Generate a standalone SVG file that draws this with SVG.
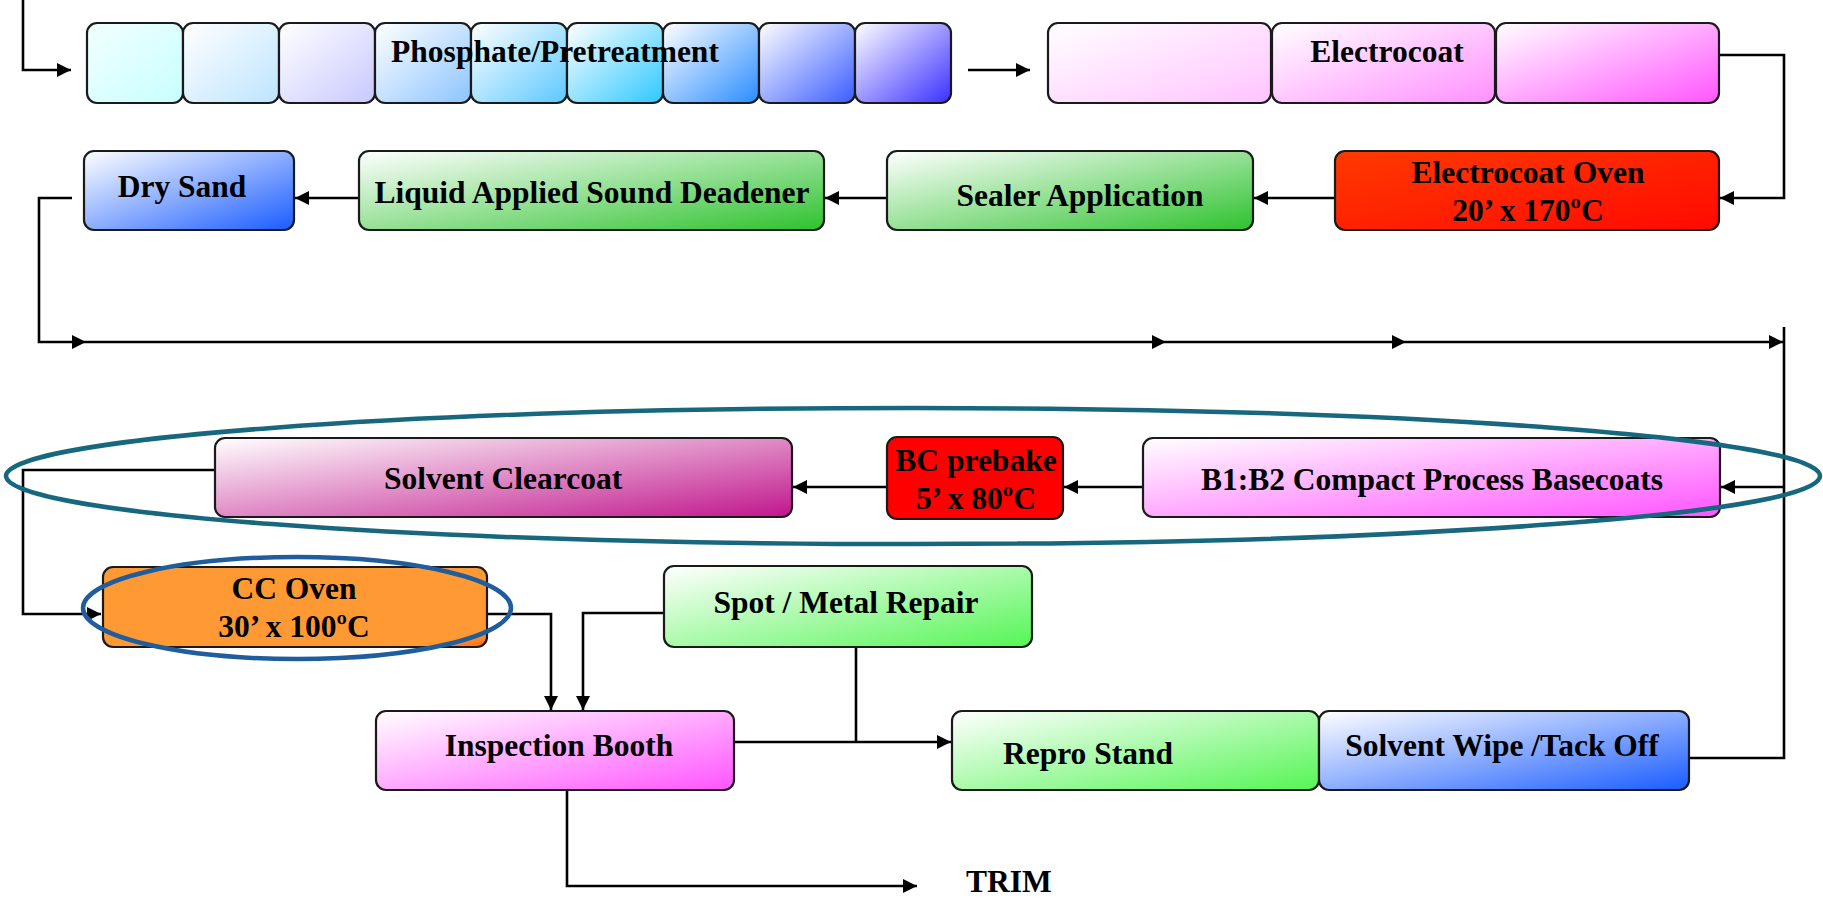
<svg xmlns="http://www.w3.org/2000/svg" width="1823" height="898" viewBox="0 0 1823 898">
<style>
.box{stroke:#1a1a1a;stroke-width:2.2}
.t{font-family:"Liberation Serif","Times New Roman",serif;font-weight:bold;font-size:31.5px;fill:#000;text-anchor:middle}
.c{fill:none;stroke:#000;stroke-width:2.6}
.ca{fill:none;stroke:#000;stroke-width:2.6;marker-end:url(#ah)}
.hl{fill:none;stroke-width:4.5}
</style>
<defs>
<marker id="ah" markerUnits="userSpaceOnUse" markerWidth="16" markerHeight="16" refX="14" refY="7" orient="auto">
<path d="M0,0 L14,7 L0,14 z" fill="#000"/>
</marker>
<linearGradient id="p1" x1="0" y1="0" x2="1" y2="1"><stop offset="0" stop-color="#f2ffff"/><stop offset="1" stop-color="#c8ffff"/></linearGradient>
<linearGradient id="p2" x1="0" y1="0" x2="1" y2="1"><stop offset="0" stop-color="#fff"/><stop offset="1" stop-color="#bde4ff"/></linearGradient>
<linearGradient id="p3" x1="0" y1="0" x2="1" y2="1"><stop offset="0" stop-color="#fff"/><stop offset="1" stop-color="#c8c8ff"/></linearGradient>
<linearGradient id="p4" x1="0" y1="0" x2="1" y2="1"><stop offset="0" stop-color="#fff"/><stop offset="1" stop-color="#8cc4ff"/></linearGradient>
<linearGradient id="p5" x1="0" y1="0" x2="1" y2="1"><stop offset="0" stop-color="#fff"/><stop offset="1" stop-color="#5cc8ff"/></linearGradient>
<linearGradient id="p6" x1="0" y1="0" x2="1" y2="1"><stop offset="0" stop-color="#fff"/><stop offset="1" stop-color="#2ec8ff"/></linearGradient>
<linearGradient id="p7" x1="0" y1="0" x2="1" y2="1"><stop offset="0" stop-color="#fff"/><stop offset="1" stop-color="#2a8cff"/></linearGradient>
<linearGradient id="p8" x1="0" y1="0" x2="1" y2="1"><stop offset="0" stop-color="#fff"/><stop offset="1" stop-color="#3a5cff"/></linearGradient>
<linearGradient id="p9" x1="0" y1="0" x2="1" y2="1"><stop offset="0" stop-color="#fff"/><stop offset="1" stop-color="#3a30ff"/></linearGradient>
<linearGradient id="e1" x1="0" y1="0" x2="1" y2="1"><stop offset="0" stop-color="#fff"/><stop offset="1" stop-color="#ffc4ff"/></linearGradient>
<linearGradient id="e2" x1="0" y1="0" x2="1" y2="1"><stop offset="0" stop-color="#fff"/><stop offset="1" stop-color="#ff90ff"/></linearGradient>
<linearGradient id="mag" x1="0" y1="0" x2="1" y2="1"><stop offset="0" stop-color="#fff"/><stop offset="1" stop-color="#ff55ff"/></linearGradient>
<linearGradient id="blue" x1="0" y1="0" x2="1" y2="1"><stop offset="0" stop-color="#fff"/><stop offset="1" stop-color="#1a5cff"/></linearGradient>
<linearGradient id="green" x1="0" y1="0" x2="1" y2="1"><stop offset="0" stop-color="#fff"/><stop offset="1" stop-color="#2ec22e"/></linearGradient>
<linearGradient id="lgreen" x1="0" y1="0" x2="1" y2="1"><stop offset="0" stop-color="#fff"/><stop offset="1" stop-color="#55f555"/></linearGradient>
<linearGradient id="purp" x1="0" y1="0" x2="1" y2="1"><stop offset="0" stop-color="#fff"/><stop offset="1" stop-color="#c0168c"/></linearGradient>
<linearGradient id="red1" x1="0" y1="0" x2="1" y2="1"><stop offset="0" stop-color="#ff3a00"/><stop offset="1" stop-color="#ff0a00"/></linearGradient>
<linearGradient id="orange" x1="0" y1="0" x2="1" y2="1"><stop offset="0" stop-color="#ff9933"/><stop offset="0.9" stop-color="#ff9933"/><stop offset="1" stop-color="#ff6a10"/></linearGradient>
</defs>
<rect width="1823" height="898" fill="#fff"/>

<g id="connectors">
<path class="ca" d="M23,0 V70 H71"/>
<path class="ca" d="M968,70 H1030"/>
<path class="ca" d="M1719,55 H1784 V198 H1720"/>
<path class="ca" d="M1335,198 H1254"/>
<path class="ca" d="M887,198 H825"/>
<path class="ca" d="M359,198 H295"/>
<path class="ca" d="M72,198 H39 V342 H86"/>
<path class="ca" d="M86,342 H1166"/>
<path class="ca" d="M1166,342 H1406"/>
<path class="ca" d="M1406,342 H1783"/>
<path class="c" d="M1784,327 V758 H1689"/>
<path class="ca" d="M1784,487 H1721"/>
<path class="ca" d="M1143,487 H1064"/>
<path class="ca" d="M887,487 H793"/>
<path class="ca" d="M215,470 H23 V614 H101"/>
<path class="ca" d="M487,614 H551 V710"/>
<path class="ca" d="M663,613 H583 V710"/>
<path class="c" d="M856,647 V742"/>
<path class="ca" d="M734,742 H951"/>
<path class="ca" d="M567,790 V886 H917"/>
</g>

<g id="phosphate">
<rect class="box" x="87" y="23" width="96" height="80" rx="10" fill="url(#p1)"/>
<rect class="box" x="183" y="23" width="96" height="80" rx="10" fill="url(#p2)"/>
<rect class="box" x="279" y="23" width="96" height="80" rx="10" fill="url(#p3)"/>
<rect class="box" x="375" y="23" width="96" height="80" rx="10" fill="url(#p4)"/>
<rect class="box" x="471" y="23" width="96" height="80" rx="10" fill="url(#p5)"/>
<rect class="box" x="567" y="23" width="96" height="80" rx="10" fill="url(#p6)"/>
<rect class="box" x="663" y="23" width="96" height="80" rx="10" fill="url(#p7)"/>
<rect class="box" x="759" y="23" width="96" height="80" rx="10" fill="url(#p8)"/>
<rect class="box" x="855" y="23" width="96" height="80" rx="10" fill="url(#p9)"/>
<text class="t" x="555" y="62">Phosphate/Pretreatment</text>
</g>

<g id="electrocoat">
<rect class="box" x="1048" y="23" width="223" height="80" rx="10" fill="url(#e1)"/>
<rect class="box" x="1272" y="23" width="223" height="80" rx="10" fill="url(#e2)"/>
<rect class="box" x="1496" y="23" width="223" height="80" rx="10" fill="url(#mag)"/>
<text class="t" x="1387" y="62">Electrocoat</text>
</g>

<g id="dry-sand">
<rect class="box" x="84" y="151" width="210" height="79" rx="10" fill="url(#blue)"/>
<text class="t" x="182" y="197">Dry Sand</text>
</g>
<g id="liquid-sound-deadener">
<rect class="box" x="359" y="151" width="465" height="79" rx="10" fill="url(#green)"/>
<text class="t" x="592" y="203">Liquid Applied Sound Deadener</text>
</g>
<g id="sealer-application">
<rect class="box" x="887" y="151" width="366" height="79" rx="10" fill="url(#green)"/>
<text class="t" x="1080" y="206">Sealer Application</text>
</g>
<g id="electrocoat-oven">
<rect class="box" x="1335" y="151" width="384" height="79" rx="10" fill="url(#red1)"/>
<text class="t" x="1528" y="183">Electrocoat  Oven</text>
<text class="t" x="1528" y="221">20’ x 170ºC</text>
</g>

<g id="solvent-clearcoat">
<rect class="box" x="215" y="438" width="577" height="79" rx="10" fill="url(#purp)"/>
<text class="t" x="503" y="489">Solvent Clearcoat</text>
</g>
<g id="bc-prebake">
<rect class="box" x="887" y="437" width="176" height="82" rx="10" fill="#ff0000"/>
<text class="t" x="976" y="471">BC prebake</text>
<text class="t" x="976" y="509">5’ x 80ºC</text>
</g>
<g id="b1b2-basecoats">
<rect class="box" x="1143" y="438" width="577" height="79" rx="10" fill="url(#mag)"/>
<text class="t" x="1432" y="490">B1:B2 Compact  Process Basecoats</text>
</g>

<g id="cc-oven">
<rect class="box" x="103" y="567" width="384" height="80" rx="10" fill="url(#orange)"/>
<text class="t" x="294" y="599">CC Oven</text>
<text class="t" x="294" y="637">30’ x 100ºC</text>
</g>
<g id="spot-metal-repair">
<rect class="box" x="664" y="566" width="368" height="81" rx="10" fill="url(#lgreen)"/>
<text class="t" x="846" y="613">Spot / Metal Repair</text>
</g>
<g id="inspection-booth">
<rect class="box" x="376" y="711" width="358" height="79" rx="10" fill="url(#mag)"/>
<text class="t" x="559" y="756">Inspection Booth</text>
</g>
<g id="repro-stand">
<rect class="box" x="952" y="711" width="367" height="79" rx="10" fill="url(#lgreen)"/>
<text class="t" x="1088" y="764">Repro Stand</text>
</g>
<g id="solvent-wipe">
<rect class="box" x="1319" y="711" width="370" height="79" rx="10" fill="url(#blue)"/>
<text class="t" x="1502" y="756">Solvent Wipe /Tack Off</text>
</g>
<g id="trim">
<text class="t" x="966" y="892" style="text-anchor:start">TRIM</text>
</g>

<g id="highlights">
<ellipse class="hl" cx="913" cy="476" rx="907" ry="68" stroke="#17687e"/>
<ellipse class="hl" cx="297" cy="608" rx="214" ry="51" stroke="#1f5d9c"/>
</g>
</svg>
